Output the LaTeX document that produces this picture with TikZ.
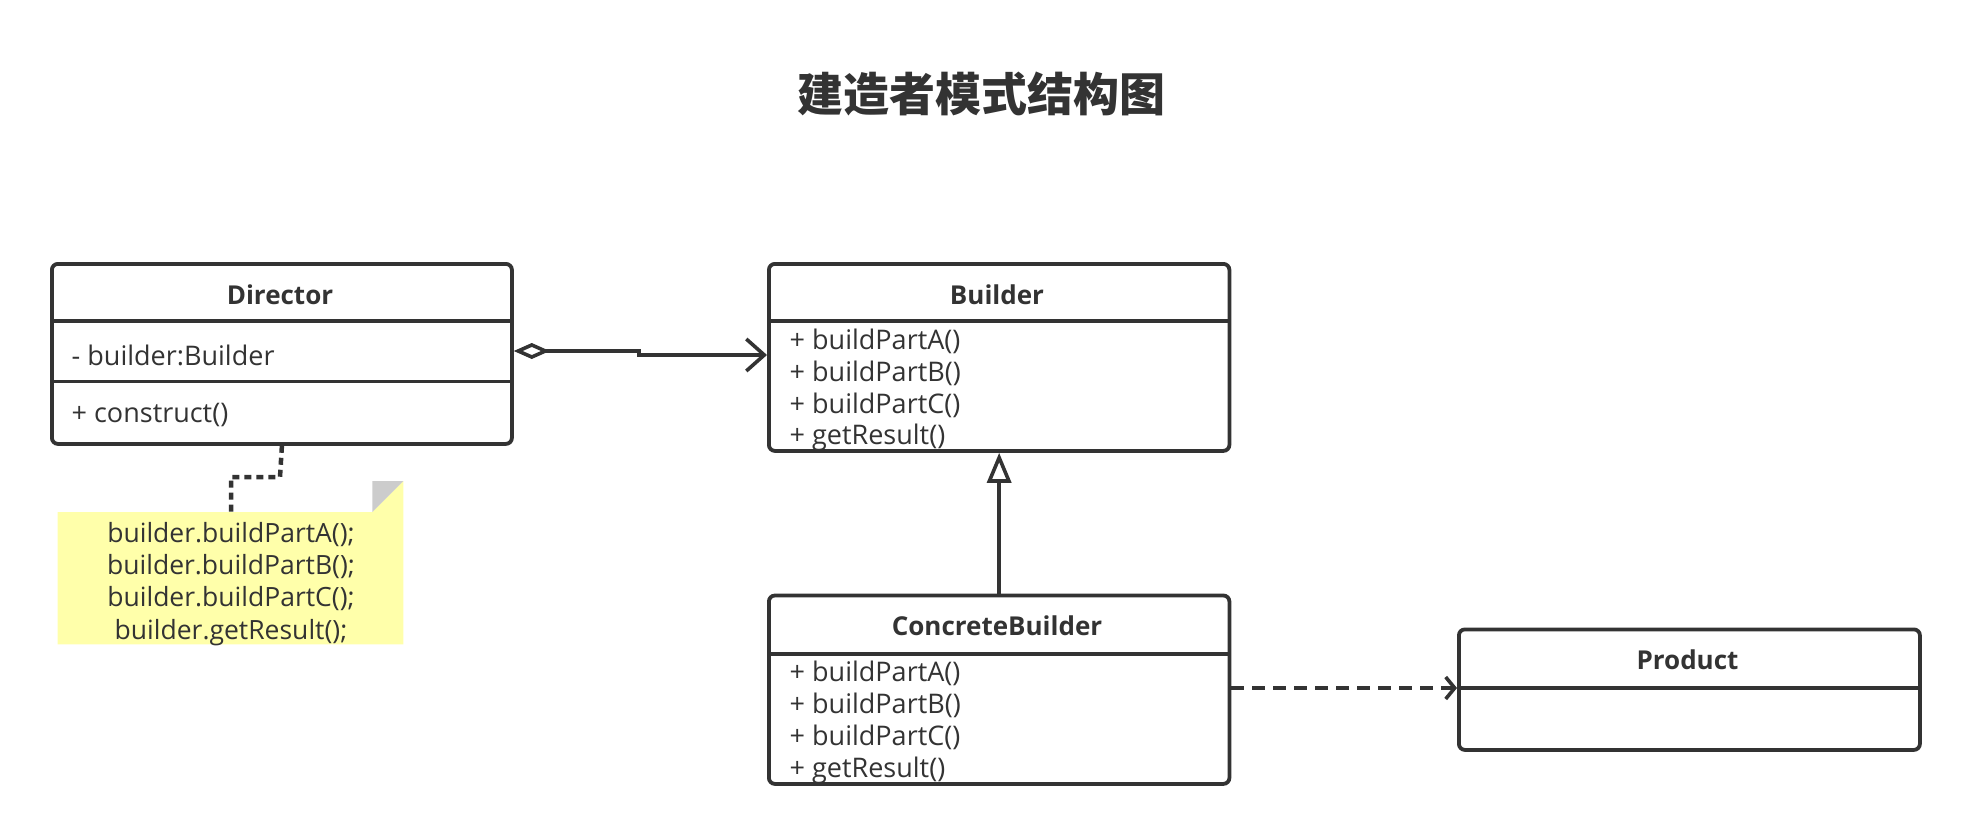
\documentclass[tikz,border=0pt]{standalone}
\usepackage{fontspec}
\setmainfont{Open Sans}
\newfontfamily\cjk{Noto Sans CJK SC}
\usetikzlibrary{arrows.meta}
\definecolor{ink}{HTML}{333333}
\definecolor{notey}{HTML}{FFFFAA}
\definecolor{foldgray}{HTML}{CCCCCC}
\tikzset{
  cls/.style={draw=ink, line width=3.8pt, rounded corners=6pt, anchor=north west, inner sep=0pt, fill=white},
  divider/.style={draw=ink, line width=3.8pt},
  clsname/.style={font=\bfseries\fontsize{26}{30}\selectfont, text=ink, inner sep=0pt},
  member/.style={font=\fontsize{27}{30}\selectfont, text=ink, anchor=west, inner sep=0pt},
  conn/.style={draw=ink, line width=3.6pt},
  notetext/.style={font=\fontsize{26.5}{32.2}\selectfont, text=ink, align=center, inner sep=0pt},
}
\begin{document}
\begin{tikzpicture}[x=1pt,y=-1pt]
\useasboundingbox (0,0) rectangle (1968,832);
% title
\node[font=\cjk\bfseries\fontsize{46}{50}\selectfont, text=ink] (title) at (981.5,94) {建造者模式结构图};

% Director
\node[cls, minimum width=460pt, minimum height=180pt] (dir) at (50,262) {};
\draw[divider] (dir.west |- 0,321) -- (dir.east |- 0,321);
\draw[divider] (dir.west |- 0,381.5) -- (dir.east |- 0,381.5);
\node[clsname] (dirname) at (280,295) {Director};
\node[member] (dirattr) at (71.5,355) {- builder:Builder};
\node[member] (dirop) at (71.5,415) {+ construct()};

% Builder
\node[cls, minimum width=460.5pt, minimum height=187pt] (bld) at (767,262) {};
\draw[divider] (bld.west |- 0,321) -- (bld.east |- 0,321);
\node[clsname] (bldname) at (997,295) {Builder};
\node[member] (b1) at (789.5,341) {+ buildPartA()};
\node[member] (b2) at (789.5,373) {+ buildPartB()};
\node[member] (b3) at (789.5,405) {+ buildPartC()};
\node[member] (b4) at (789.5,437.5) {+ getResult()};

% ConcreteBuilder
\node[cls, minimum width=460.5pt, minimum height=188.4pt] (cb) at (767,593.6) {};
\draw[divider] (cb.west |- 0,654) -- (cb.east |- 0,654);
\node[clsname] (cbname) at (997,626) {ConcreteBuilder};
\node[member] (c1) at (789.5,673.5) {+ buildPartA()};
\node[member] (c2) at (789.5,705.5) {+ buildPartB()};
\node[member] (c3) at (789.5,737.5) {+ buildPartC()};
\node[member] (c4) at (789.5,770) {+ getResult()};

% Product
\node[cls, minimum width=461pt, minimum height=120.5pt] (prod) at (1457,627.5) {};
\draw[divider] (prod.west |- 0,688) -- (prod.east |- 0,688);
\node[clsname] (prodname) at (1687.5,660) {Product};

% Note
\node[minimum width=345.3pt, minimum height=132pt, inner sep=0pt, anchor=north west] (note) at (57.7,512) {};
\fill[notey] (note.north west) -- ([xshift=-31pt]note.north east) -- ([yshift=31pt]note.north east) -- (note.south east) -- (note.south west) -- cycle;
\fill[foldgray] ([xshift=-31pt]note.north east) -- ([yshift=31pt]note.north east) -- ([xshift=-31pt,yshift=31pt]note.north east) -- cycle;
\node[notetext] (notetxt) at (231,584) {builder.buildPartA();\\builder.buildPartB();\\builder.buildPartC();\\builder.getResult();};

% connectors
\coordinate (bendA) at (639,351);
\coordinate (bendB) at (639,355);
\draw[conn, {Diamond[open,length=36pt,width=16pt,line width=3.6pt]}-{Straight Barb[length=18pt,width=32pt,line width=3.6pt]}]
  (dir.east |- bendA) -- (bendA) -- (bendB) -- (bld.west |- bendB);
\draw[conn, -{Triangle[open,length=30pt,width=24pt,line width=3.6pt]}] (cb.north) -- (bld.south);
\draw[conn, dash pattern=on 13pt off 8pt, -{Straight Barb[length=9pt,width=22pt,line width=3.6pt]}]
  (cb.east |- 0,688) -- (prod.west |- 0,688);
\coordinate (dotA) at (280,477);
\coordinate (dotB) at (231,477);
\draw[draw=ink, line width=4.5pt, dash pattern=on 7pt off 5pt] (dir.south) -- (dotA) -- (dotB) -- (dotB |- note.north);
\end{tikzpicture}
\end{document}
